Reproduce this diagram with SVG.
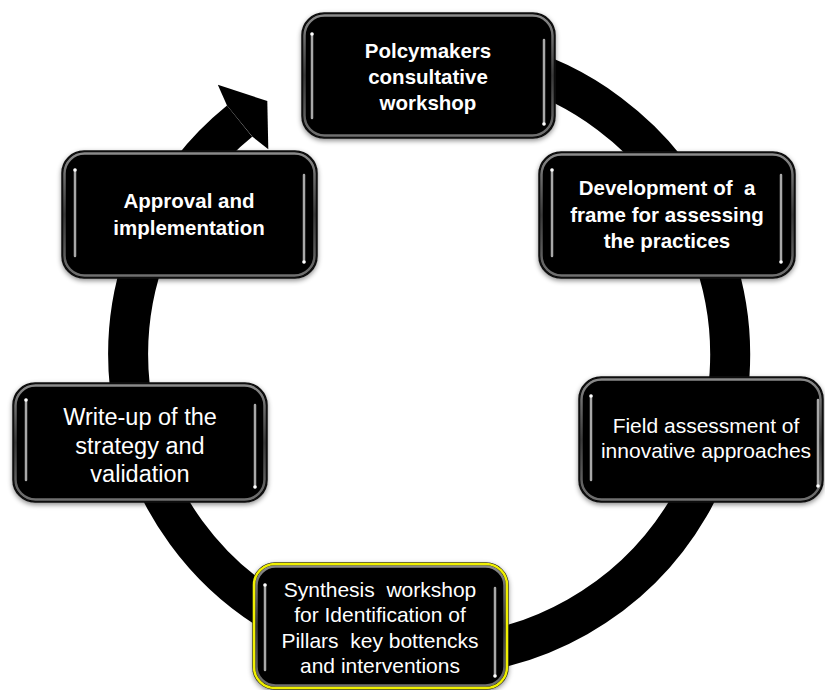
<svg xmlns="http://www.w3.org/2000/svg" width="825" height="690" viewBox="0 0 825 690">
<defs>
<filter id="sh" x="-10%" y="-10%" width="120%" height="130%">
<feDropShadow dx="0" dy="2" stdDeviation="2.5" flood-color="#000" flood-opacity="0.45"/>
</filter>
<linearGradient id="bevel" x1="0" y1="0" x2="0" y2="1">
<stop offset="0" stop-color="#8a8a8a"/>
<stop offset="0.5" stop-color="#3a3a3a"/>
<stop offset="1" stop-color="#707070"/>
</linearGradient>
</defs>
<style>
.ring{fill:none;stroke:#000;stroke-width:40}
.arrow{fill:#000}
.box{fill:#000;stroke:#111;stroke-width:1.5;filter:url(#sh)}
.bev{fill:none;stroke:url(#bevel);stroke-width:2.5}
.hl{stroke:#a8a8a8;stroke-width:2.5;stroke-linecap:round;fill:none}
.dot{fill:#fff}
.yel{fill:none;stroke:#f0f000;stroke-width:2.5}
text{white-space:pre}
.tb{font-family:"Liberation Sans",Arial,sans-serif;font-weight:bold;font-size:20.5px;fill:#fff;text-anchor:middle}
.tr{font-family:"Liberation Sans",Arial,sans-serif;font-size:21px;fill:#fff;text-anchor:middle}
.tl{font-family:"Liberation Sans",Arial,sans-serif;font-size:23.5px;fill:#fff;text-anchor:middle}
</style>
<g id="connectors">
<path class="ring" d="M 239.6 121.1 A 301 301 0 1 0 326.1 72.1"/>
<polygon class="arrow" points="227.0,105.5 217.8,84.7 267.3,101.1 268.3,149.3 252.2,136.6"/>
</g>
<g id="n1">
<rect class="box" x="302" y="13" width="253" height="125" rx="22"/>
<rect class="bev" x="304.5" y="15.5" width="248" height="120" rx="20"/>
<line class="hl" x1="312" y1="34" x2="312" y2="118"/>
<line class="hl" x1="544" y1="40" x2="544" y2="124"/>
<circle class="dot" cx="312" cy="34" r="1.8"/><circle class="dot" cx="544" cy="124" r="1.8"/>
<text class="tb" x="428" y="58">Polcymakers</text>
<text class="tb" x="428" y="84">consultative</text>
<text class="tb" x="428" y="110">workshop</text>
</g>
<g id="n2">
<rect class="box" x="539" y="152" width="256" height="126" rx="22"/>
<rect class="bev" x="541.5" y="154.5" width="251" height="121" rx="20"/>
<line class="hl" x1="552" y1="170" x2="552" y2="256"/>
<line class="hl" x1="781" y1="175" x2="781" y2="262"/>
<circle class="dot" cx="552" cy="170" r="1.8"/><circle class="dot" cx="781" cy="262" r="1.8"/>
<text class="tb" x="667" y="195">Development of  a</text>
<text class="tb" x="667" y="222">frame for assessing</text>
<text class="tb" x="667" y="248">the practices</text>
</g>
<g id="n3">
<rect class="box" x="579" y="377" width="244" height="125" rx="22"/>
<rect class="bev" x="581.5" y="379.5" width="239" height="120" rx="20"/>
<line class="hl" x1="591" y1="396" x2="591" y2="480"/>
<line class="hl" x1="818" y1="400" x2="818" y2="486"/>
<circle class="dot" cx="591" cy="396" r="1.8"/><circle class="dot" cx="818" cy="486" r="1.8"/>
<text class="tr" x="706" y="433">Field assessment of</text>
<text class="tr" x="706" y="458">innovative approaches</text>
</g>
<g id="n4">
<rect class="box" x="253" y="563" width="255" height="126" rx="22"/>
<rect class="bev" x="256.5" y="566.5" width="248" height="119" rx="19"/>
<rect class="yel" x="254" y="564" width="253" height="124" rx="21"/>
<line class="hl" x1="265" y1="585" x2="265" y2="670"/>
<line class="hl" x1="495" y1="588" x2="495" y2="676"/>
<circle class="dot" cx="265" cy="585" r="1.8"/><circle class="dot" cx="495" cy="676" r="1.8"/>
<text class="tr" x="380" y="597">Synthesis  workshop</text>
<text class="tr" x="380" y="622">for Identification of</text>
<text class="tr" x="380" y="648">Pillars  key bottencks</text>
<text class="tr" x="380" y="673">and interventions</text>
</g>
<g id="n5">
<rect class="box" x="13" y="383" width="254" height="119" rx="22"/>
<rect class="bev" x="15.5" y="385.5" width="249" height="114" rx="20"/>
<line class="hl" x1="26" y1="400" x2="26" y2="480"/>
<line class="hl" x1="255" y1="405" x2="255" y2="487"/>
<circle class="dot" cx="26" cy="400" r="1.8"/><circle class="dot" cx="255" cy="487" r="1.8"/>
<text class="tl" x="140" y="425">Write-up of the</text>
<text class="tl" x="140" y="454">strategy and</text>
<text class="tl" x="140" y="482">validation</text>
</g>
<g id="n6">
<rect class="box" x="62" y="151" width="255" height="127" rx="22"/>
<rect class="bev" x="64.5" y="153.5" width="250" height="122" rx="20"/>
<line class="hl" x1="75" y1="170" x2="75" y2="256"/>
<line class="hl" x1="304" y1="175" x2="304" y2="262"/>
<circle class="dot" cx="75" cy="170" r="1.8"/><circle class="dot" cx="304" cy="262" r="1.8"/>
<text class="tb" x="189" y="208">Approval and</text>
<text class="tb" x="189" y="235">implementation</text>
</g>
</svg>
